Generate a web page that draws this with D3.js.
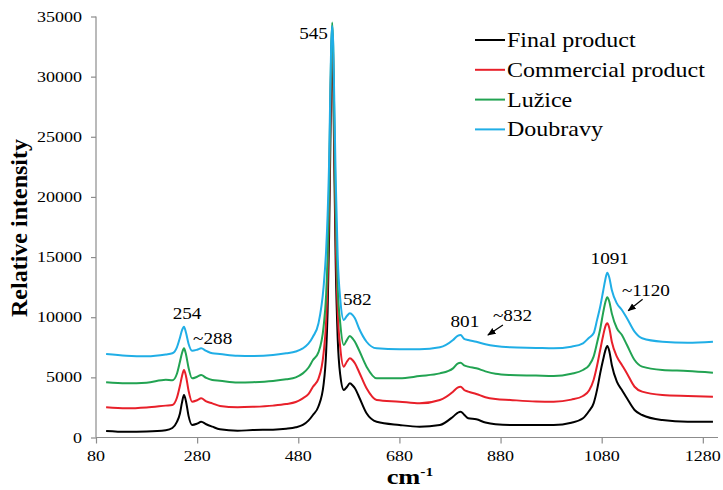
<!DOCTYPE html>
<html><head><meta charset="utf-8">
<script src="https://cdn.jsdelivr.net/npm/d3@7"></script>
<style>body{margin:0;background:#fff}</style>
</head><body><svg id="c" width="723" height="490"></svg>
<script>
const wavenumbers = [100,140,180,218,231,240,246,250,254,258,263,270,280,288,298,310,325,360,390,430,456,475,489,500,509,520,530,535,538,541,543,545,547,549,551,554,558,563,570,576,582,588,592,600,615,635,680,720,760,786,795,801,808,816,832,850,870,899,950,985,1020,1043,1055,1064,1071,1077,1083,1087,1091,1095,1100,1110,1120,1130,1145,1160,1200,1250,1300];
const finalProduct = [550,480,500,600,790,1300,2000,2900,3530,3000,1800,1040,1150,1310,1100,900,680,560,620,650,730,850,1040,1400,1870,2600,4400,7000,10500,16800,23000,29500,33600,30000,23500,14500,8200,5200,3950,4200,4500,4300,4090,3390,2010,1310,1040,900,1040,1730,2050,2150,1900,1600,1510,1250,1100,1040,1040,1040,1230,1600,2200,2840,4000,5330,6500,7200,7610,7200,6030,4640,3950,3260,2290,1870,1450,1310,1310];
const commercialProduct = [2510,2430,2500,2650,2700,3300,4300,5100,5610,5100,3900,2980,3100,3260,3000,2840,2620,2520,2550,2650,2780,2950,3260,3600,4220,4900,7000,9600,13000,19500,25500,31000,33900,31500,25500,17000,10500,7500,5890,6300,6580,6400,6170,5470,4090,3120,2980,2840,3120,3810,4150,4220,3950,3810,3620,3350,3200,3120,3000,2980,3150,3450,3900,4780,6000,7270,8500,9200,9490,9100,7960,6720,6030,5330,4220,3810,3530,3450,3390];
const luzice = [4590,4500,4550,4800,4750,5300,6300,7000,7410,6900,5800,4920,5050,5200,4950,4780,4720,4580,4600,4700,4840,5000,5330,5800,6440,7100,9200,11800,15000,21000,27000,32000,34500,32500,27000,19000,12500,9500,7690,8100,8440,8200,7960,7270,5890,4920,4920,5110,5330,5750,6150,6220,6000,5890,5750,5500,5300,5200,5150,5110,5300,5610,6000,6720,7900,9000,10400,11200,11650,11300,10320,9080,8520,7690,6440,5890,5610,5530,5390];
const doubravy = [6940,6800,6750,6900,7000,7500,8300,8900,9210,8700,7800,7220,7300,7410,7200,7000,6940,6800,6770,6850,7000,7150,7410,7800,8380,9500,12500,15500,18500,23000,28000,32500,34200,32800,28500,21500,15000,11500,9770,10100,10320,10150,9910,9080,7960,7410,7330,7330,7500,8100,8450,8520,8200,8100,7960,7750,7600,7500,7450,7410,7550,7830,8300,8660,9800,10870,12200,13100,13700,13300,12260,11150,10600,9910,8800,8250,7960,7880,7960];
const seriesNames = ["Final product","Commercial product","Lužice","Doubravy"];
const xTicks = [80,280,480,680,880,1080,1280];
const yTicks = [0,5000,10000,15000,20000,25000,30000,35000];
const peakLabels = ["254","~288","545","582","801","~832","1091","~1120"];
const peakLabelW = [260,272,538.7,568.3,809.5,865,1096,1120];
const peakLabelV = [9890,7814,33167,11056,9227,9726,14464,11804];
const arrowFromW = [884.7,1160.9], arrowFromV = [9352,11488];
const arrowToW = [855.0,1132.4], arrowToV = [8520,10540];

const colors = ["#000000","#e8202a","#22a352","#20aee6"];
const anchors = ["middle","start","end","start","middle","start","middle","start"];
const SX = 1.2; // horizontal text stretch seen in the picture
const svg = d3.select("#c");
const x = d3.scaleLinear().domain([80,1310]).range([96,718]);
const y = d3.scaleLinear().domain([0,35000]).range([437.5,16.5]);
const serif = "'Liberation Serif','Times New Roman',serif";

function stext(g, px, py, txt, size, anchor, weight){
  return g.append("text").attr("transform",`translate(${px},${py}) scale(${SX},1)`)
    .attr("text-anchor",anchor||"start").attr("font-family",serif)
    .attr("font-size",size).attr("font-weight",weight||"normal").attr("fill","#000").text(txt);
}

// axes
const axisColor = "#8c8c8c";
const xAxis = svg.append("g").attr("transform",`translate(0,${y(0)})`)
  .call(d3.axisBottom(x).tickValues(xTicks).tickSize(6).tickFormat(""));
const yAxis = svg.append("g").attr("transform",`translate(${x(80)},0)`)
  .call(d3.axisLeft(y).tickValues(yTicks).tickSize(5).tickFormat(""));
[xAxis,yAxis].forEach(a=>{a.selectAll("path,line").attr("stroke",axisColor).attr("stroke-width",1.2);});
xAxis.select("path").attr("d",`M${x(80)},0H${x(1310)}`);
yAxis.select("path").attr("d",`M0,${y(0)}V${y(35000)}`);
xTicks.forEach(t=>stext(svg, x(t), 461, String(t), 15, "middle"));
yTicks.forEach(t=>stext(svg, 82, y(t)+5, String(t), 15, "end"));

// titles
svg.append("text").attr("transform",`translate(27,228) rotate(-90)`)
  .attr("text-anchor","middle").attr("font-family",serif).attr("font-weight","bold")
  .attr("font-size",24).text("Relative intensity");
const xt = stext(svg, 410, 484, "", 22, "middle", "bold");
xt.append("tspan").text("cm");
xt.append("tspan").attr("font-size",13).attr("dy",-8).text("-1");

// lines
const all = [finalProduct,commercialProduct,luzice,doubravy];
const line = d3.line().x((d,i)=>x(wavenumbers[i])).y(d=>y(d)).curve(d3.curveMonotoneX);
all.forEach((s,k)=>{
  svg.append("path").datum(s).attr("d",line).attr("fill","none")
    .attr("stroke",colors[k]).attr("stroke-width",2).attr("stroke-linejoin","round");
});

// peak labels
peakLabels.forEach((t,i)=>stext(svg, x(peakLabelW[i]), y(peakLabelV[i]), t, 16, anchors[i]));
// arrows
const defs = svg.append("defs");
defs.append("marker").attr("id","ah").attr("viewBox","0 0 10 10").attr("refX",9).attr("refY",5)
  .attr("markerWidth",7).attr("markerHeight",7).attr("orient","auto")
  .append("path").attr("d","M0,1L10,5L0,9Z").attr("fill","#000");
arrowFromW.forEach((w,i)=>{
  svg.append("line").attr("x1",x(w)).attr("y1",y(arrowFromV[i]))
    .attr("x2",x(arrowToW[i])).attr("y2",y(arrowToV[i]))
    .attr("stroke","#000").attr("stroke-width",1.2).attr("marker-end","url(#ah)");
});

// legend
seriesNames.forEach((n,i)=>{
  const yy = 40 + i*29.8;
  svg.append("line").attr("x1",475).attr("x2",505).attr("y1",yy).attr("y2",yy)
    .attr("stroke",colors[i]).attr("stroke-width",2);
  stext(svg, 507, yy+7, n, 20, "start");
});
</script></body></html>
